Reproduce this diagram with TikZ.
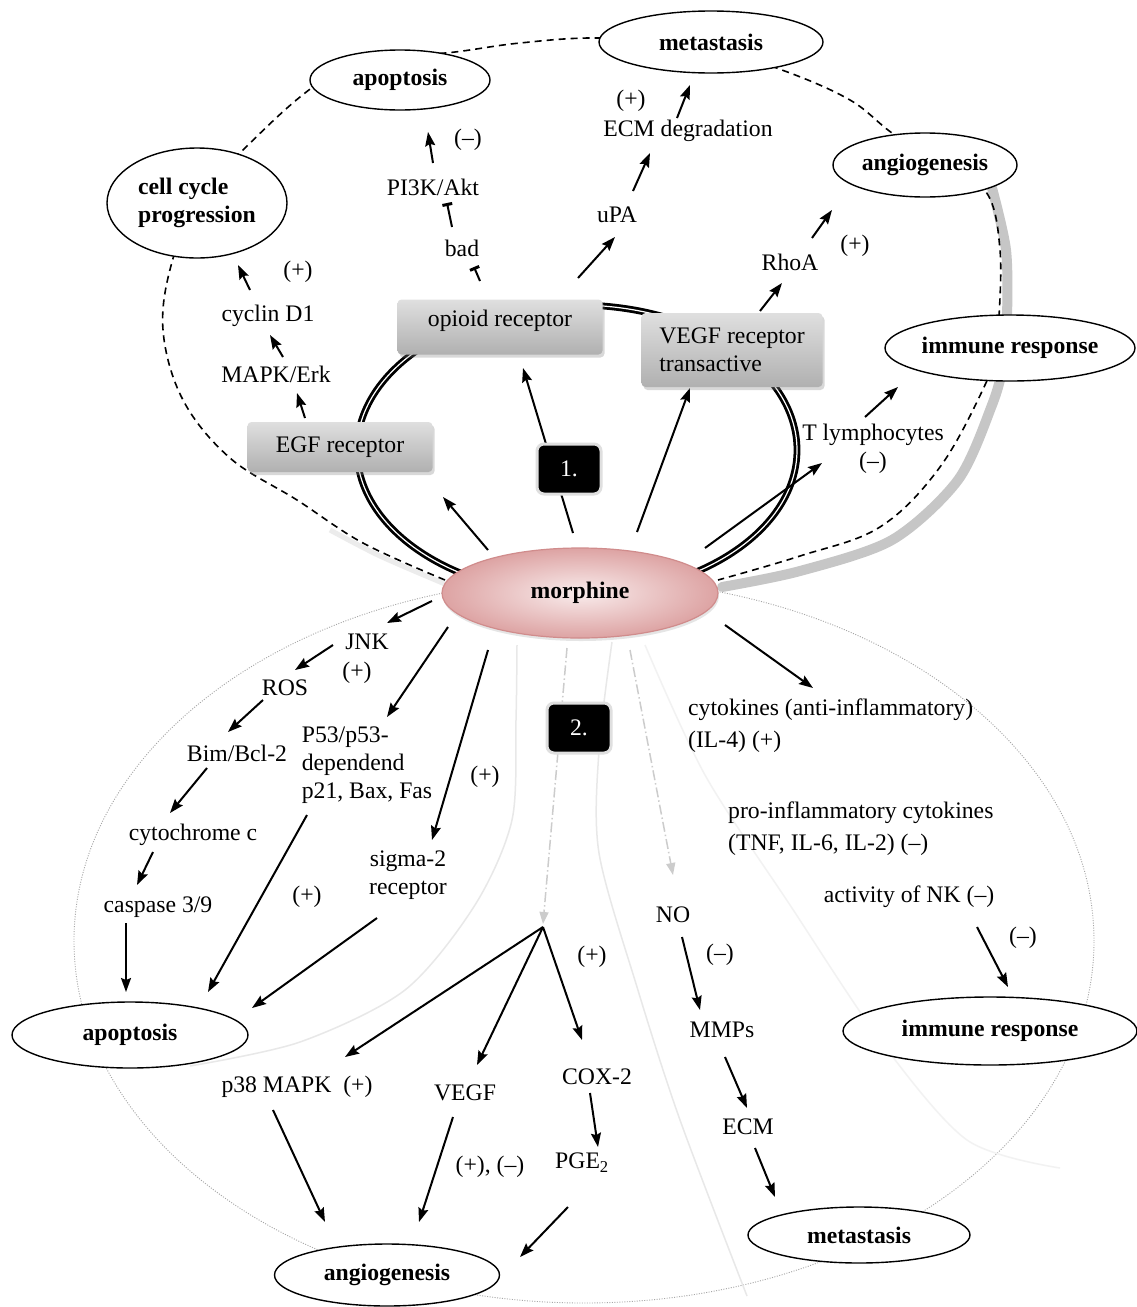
\documentclass[tikz,border=0pt]{standalone}
\usepackage{fontspec}
\setmainfont{Liberation Serif}
\usetikzlibrary{shapes.geometric,arrows.meta,calc,shadows}
\pgfdeclarelayer{bg}
\pgfdeclarelayer{mid}
\pgfsetlayers{bg,mid,main}
\newcommand\lblfont{\fontsize{23.7}{28}\selectfont}
\definecolor{morphE}{HTML}{DDA3A3}
\definecolor{morphI}{HTML}{F9ECEC}
\definecolor{morphB}{HTML}{D08C8C}
\begin{document}
\begin{tikzpicture}[x=1pt,y=-1pt,
 every node/.style={font=\lblfont, inner sep=0pt},
 oval/.style={ellipse, draw=black, line width=1.4pt, fill=white, font=\lblfont\bfseries},
 recbox/.style={rectangle, rounded corners=4pt, top color=gray!25, middle color=gray!4, bottom color=gray!62,
   drop shadow={shadow xshift=2pt,shadow yshift=-3pt,opacity=0.3,fill=gray}},
 numbox/.style={rectangle, rounded corners=7pt, fill=black, draw=gray!25, line width=3pt, text=white,
   minimum width=64pt, minimum height=50pt},
 arr/.style={line width=2pt, -{Stealth[length=14pt,width=10pt,inset=2pt]}},
 inh/.style={line width=2pt, -{Bar[width=10pt,line width=3pt]}},
 ghost/.style={gray!40, line width=1.5pt, dash pattern=on 10pt off 3pt on 1.5pt off 3pt, -{Triangle[length=12pt,width=9pt]}},
 faint/.style={gray!18, line width=1.5pt},
 loopdash/.style={line width=1.6pt, dash pattern=on 7pt off 5pt},
 ring/.style={line width=2.8pt, double=white, double distance=1.2pt}
]
\useasboundingbox (0,0) rectangle (1137,1307);

% ---------- nodes ----------
\node[oval, minimum width=224pt, minimum height=62pt] (metT) at (711,42) {metastasis};
\node[oval, minimum width=180pt, minimum height=60pt] (apoT) at (400,80) {apoptosis};
\node[oval, minimum width=180pt, minimum height=110pt, align=left] (ccp) at (197,203) {cell cycle\\progression};
\node[oval, minimum width=184pt, minimum height=64pt] (angT) at (925,165) {angiogenesis};
\node[oval, minimum width=250pt, minimum height=66pt] (immT) at (1010,348) {immune response};
\node[oval, minimum width=236pt, minimum height=66pt] (apoB) at (130,1035) {apoptosis};
\node[oval, minimum width=225pt, minimum height=62pt] (angB) at (387,1275) {angiogenesis};
\node[oval, minimum width=222pt, minimum height=56pt] (metB) at (859,1235) {metastasis};
\node[oval, minimum width=294pt, minimum height=68pt] (immB) at (990,1031) {immune response};

\node[ellipse, minimum width=276pt, minimum height=90pt, inner color=morphI, outer color=morphE,
  draw=morphB, line width=1.2pt, drop shadow={shadow xshift=1pt,shadow yshift=-3pt,opacity=0.2,fill=gray}]
  (morph) at (580,593) {\bfseries morphine};

\node[recbox, minimum width=205pt, minimum height=55pt, text height=16pt, text depth=18pt] (opioid) at (500,327) {opioid receptor};
\node[recbox, minimum width=181pt, minimum height=74pt, align=left] (vegfR) at (732,350) {VEGF receptor\\transactive};
\node[recbox, minimum width=185pt, minimum height=50pt] (egf) at (340,447) {EGF receptor};

\node[numbox] (one) at (569,469) {1.};
\node[numbox] (two) at (579,728) {2.};

\node (ecmdeg) at (688,131) {ECM degradation};
\node (plusA) at (631,101) {(+)};
\node (minusA) at (468,140) {(–)};
\node (pi3k) at (433,187) {PI3K/Akt};
\node (bad) at (462,248) {bad};
\node (upa) at (617,215) {uPA};
\node (rhoa) at (790,262) {RhoA};
\node (plusR) at (855,246) {(+)};
\node (plusC) at (298,272) {(+)};
\node (cyclin) at (268,316) {cyclin D1};
\node (mapk) at (276,374) {MAPK/Erk};
\node (tlym) at (873,435) {T lymphocytes};
\node (minusT) at (873,463) {(–)};
\node (jnk) at (367,642) {JNK};
\node (plusJ) at (357,673) {(+)};
\node (ros) at (285,688) {ROS};
\node[align=left] (p53) at (367,765) {P53/p53-\\dependend\\p21, Bax, Fas};
\node (bim) at (237,753) {Bim/Bcl-2};
\node (cytc) at (193,835) {cytochrome c};
\node (casp) at (158,907) {caspase 3/9};
\node (plusP) at (307,897) {(+)};
\node[align=center] (sigma) at (408,875) {sigma-2\\receptor};
\node (plusS) at (485,777) {(+)};
\node[align=left, anchor=west] (cytok) at (688,726) {cytokines (anti-inflammatory)\\[4pt](IL-4) (+)};
\node[align=left, anchor=west] (proinf) at (728,829) {pro-inflammatory cytokines\\[4pt](TNF, IL-6, IL-2) (–)};
\node (nk) at (909,897) {activity of NK (–)};
\node (minusNK) at (1023,938) {(–)};
\node (no) at (673,915) {NO};
\node (minusNO) at (720,955) {(–)};
\node (plusX) at (592,957) {(+)};
\node (mmps) at (722,1030) {MMPs};
\node (cox2) at (597,1077) {COX-2};
\node (ecm) at (748,1127) {ECM};
\node (pge2) at (582,1163) {PGE\textsubscript{2}};
\node (p38) at (297,1087) {p38 MAPK\ \ (+)};
\node (vegf) at (465,1093) {VEGF};
\node (pm) at (490,1167) {(+), (–)};
\coordinate (J) at (543,927);

% ---------- background curves ----------
\begin{pgfonlayer}{bg}
\fill[white] (0,0) rectangle (1137,1307);
\draw[gray!70, line width=0.9pt, dash pattern=on 1pt off 1.5pt] (584,941) ellipse [x radius=510pt, y radius=362pt];
\draw[faint] plot[smooth] coordinates {(517,645) (516,720) (512,820) (475,905) (405,990) (300,1042) (190,1066)};
\draw[faint] plot[smooth] coordinates {(612,642) (599,750) (599,853) (637,987) (680,1120) (747,1296)};
\draw[gray!10, line width=1.5pt] plot[smooth] coordinates {(645,645) (705,775) (790,905) (880,1040) (967,1140) (1060,1168)};
\draw[gray!45, line width=10pt, line cap=round] plot[smooth] coordinates {(992,188) (1006,250) (1007,317) (1003,365) (992,405) (958,480) (892,540) (800,571) (722,587)};
\draw[gray!15, line width=5pt] plot[smooth] coordinates {(330,530) (380,556) (445,584)};
\draw[loopdash] plot[smooth, tension=0.6] coordinates {(445,580) (363,543) (297,500) (230,458) (183,400) (163,330) (172,262) (200,195) (245,148) (300,97) (345,68) (400,57) (455,52) (520,43) (598,38) (700,45) (782,70) (850,100) (895,135) (950,165) (988,195) (1000,250) (999,317) (995,350) (985,385) (940,467) (880,527) (800,556) (718,580)};
\draw[ring] (577,450) ellipse [x radius=220pt, y radius=145pt];
\end{pgfonlayer}

% ---------- connectors ----------
\begin{pgfonlayer}{mid}
\draw[arr] ($(egf)+(-35,-29)$) -- ($(mapk)+(21,19)$);
\draw[arr] ($(mapk)+(7,-17)$) -- ($(cyclin)+(2,19)$);
\draw[arr] ($(cyclin)+(-18,-26)$) -- ($(ccp)+(41,62)$);
\draw[inh] ($(opioid)+(-20,-46)$) -- ($(bad)+(12,19)$);
\draw[inh] ($(bad)+(-10,-21)$) -- ($(pi3k)+(14,16)$);
\draw[arr] ($(pi3k)+(0,-24)$) -- ($(apoT)+(28,52)$);
\draw[arr] ($(opioid)+(78,-49)$) -- ($(upa)+(-2,22)$);
\draw[arr] ($(upa)+(16,-24)$) -- ($(ecmdeg)+(-38,22)$);
\draw[arr] ($(ecmdeg)+(-11,-13)$) -- ($(metT)+(-21,43)$);
\draw[arr] ($(vegfR)+(28,-39)$) -- ($(rhoa)+(-8,21)$);
\draw[arr] ($(rhoa)+(22,-24)$) -- ($(angT)+(-93,45)$);
\draw[arr] ($(morph)+(125,-45)$) -- ($(tlym)+(-51,28)$);
\draw[arr] ($(tlym)+(-8,-18)$) -- ($(immT)+(-112,39)$);
\draw[arr] ($(morph)+(-92,-43)$) -- ($(egf)+(103,50)$);
\draw[arr] ($(morph)+(-7,-60)$) -- ($(opioid)+(23,41)$);
\draw[arr] ($(morph)+(57,-61)$) -- ($(vegfR)+(-42,38)$);
\draw[arr] ($(morph)+(-148,8)$) -- ($(jnk)+(20,-19)$);
\draw[arr] ($(jnk)+(-34,3)$) -- ($(ros)+(10,-18)$);
\draw[arr] ($(ros)+(-22,12)$) -- ($(bim)+(-9,-21)$);
\draw[arr] ($(bim)+(-30,15)$) -- ($(cytc)+(-23,-22)$);
\draw[arr] ($(cytc)+(-40,17)$) -- ($(casp)+(-21,-22)$);
\draw[arr] ($(casp)+(-32,16)$) -- ($(apoB)+(-4,-43)$);
\draw[arr] ($(morph)+(-132,34)$) -- ($(p53)+(20,-48)$);
\draw[arr] ($(p53)+(-60,50)$) -- ($(apoB)+(78,-43)$);
\draw[arr] ($(morph)+(-92,57)$) -- ($(sigma)+(24,-35)$);
\draw[arr] ($(sigma)+(-31,43)$) -- ($(apoB)+(122,-27)$);
\draw[ghost] ($(morph)+(-13,55)$) -- ($(J)+(0,-3)$);
\draw[arr] (J) -- ($(p38)+(48,-30)$);
\draw[arr] (J) -- ($(vegf)+(12,-28)$);
\draw[arr] (J) -- ($(cox2)+(-15,-37)$);
\draw[arr] ($(p38)+(-24,23)$) -- ($(angB)+(-62,-53)$);
\draw[arr] ($(vegf)+(-12,24)$) -- ($(angB)+(32,-53)$);
\draw[arr] ($(cox2)+(-7,16)$) -- ($(pge2)+(16,-16)$);
\draw[arr] ($(pge2)+(-14,44)$) -- ($(angB)+(133,-18)$);
\draw[arr] ($(morph)+(145,32)$) -- ($(cytok.west)+(125,-38)$);
\draw[ghost] ($(morph)+(50,57)$) -- ($(no)+(0,-40)$);
\draw[arr] ($(no)+(9,22)$) -- ($(mmps)+(-22,-20)$);
\draw[arr] ($(mmps)+(3,27)$) -- ($(ecm)+(-1,-19)$);
\draw[arr] ($(ecm)+(7,21)$) -- ($(metB)+(-84,-38)$);
\draw[arr] ($(nk)+(68,30)$) -- ($(immB)+(18,-44)$);
\end{pgfonlayer}
\end{tikzpicture}
\end{document}
